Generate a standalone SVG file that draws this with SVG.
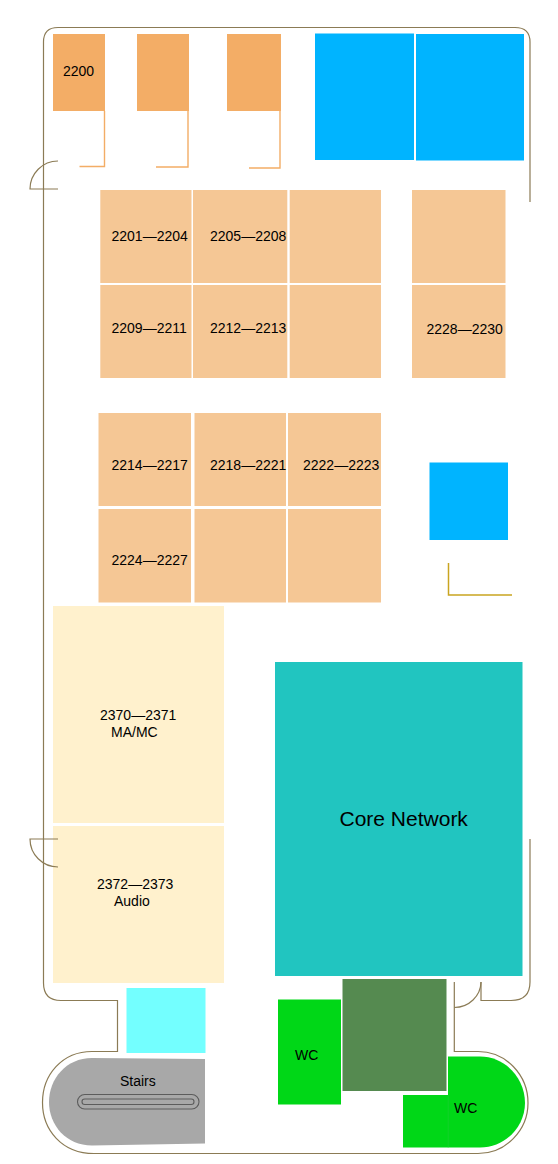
<svg xmlns="http://www.w3.org/2000/svg" width="558" height="1164" viewBox="0 0 558 1164">
<style>
text{font-family:"Liberation Sans",Arial,sans-serif;font-size:14px;fill:#000;text-anchor:start}
.o{fill:#f3ad66}.p{fill:#f5c795}.b{fill:#00b4ff}.c{fill:#fff1cd}.g{fill:#00d717}
.w{fill:none;stroke:#8b7b55;stroke-width:1.200}
.l{fill:none;stroke:#f3ad66;stroke-width:1.400}
.r{fill:none;stroke:#5c5c5c;stroke-width:1.100}
</style>
<rect width="558" height="1164" fill="#fff"/>
<g id="r2200"><rect class="o" x="53" y="34" width="52" height="77"/><path class="l" d="M104.500 111V166.500H79.500"/><text x="63" y="76">2200</text></g>
<g id="r2200b"><rect class="o" x="137" y="34" width="52" height="77"/><path class="l" d="M188 111V167H156"/></g>
<g id="r2200c"><rect class="o" x="227" y="34" width="54" height="77"/><path class="l" d="M280 111V168H249"/></g>
<g id="blue1"><rect class="b" x="315" y="33.500" width="99" height="126.500"/></g>
<g id="blue2"><rect class="b" x="416" y="34" width="108" height="126.500"/></g>
<g id="r2201"><rect class="p" x="100.300" y="190" width="91.200" height="93"/><text x="111.500" y="241">2201—2204</text></g>
<g id="r2205"><rect class="p" x="193" y="190" width="94.300" height="93"/><text x="210" y="241">2205—2208</text></g>
<g id="r2205b"><rect class="p" x="289.700" y="190" width="91.300" height="93"/></g>
<g id="r2209"><rect class="p" x="100.300" y="285" width="91.200" height="93"/><text x="111.500" y="333">2209—2211</text></g>
<g id="r2212"><rect class="p" x="193" y="285" width="94.300" height="93"/><text x="210" y="333">2212—2213</text></g>
<g id="r2212b"><rect class="p" x="289.700" y="285" width="91.300" height="93"/></g>
<g id="r2228a"><rect class="p" x="412" y="190" width="93.500" height="93"/></g>
<g id="r2228"><rect class="p" x="412" y="285" width="93.500" height="93"/><text x="426.500" y="334">2228—2230</text></g>
<g id="r2214"><rect class="p" x="98.500" y="413" width="92.500" height="93"/><text x="111.500" y="470">2214—2217</text></g>
<g id="r2218"><rect class="p" x="194.500" y="413" width="91.500" height="93"/><text x="210" y="470">2218—2221</text></g>
<g id="r2222"><rect class="p" x="288" y="413" width="93" height="93"/><text x="303" y="470">2222—2223</text></g>
<g id="r2224"><rect class="p" x="98.500" y="509" width="92.500" height="93.500"/><text x="111.500" y="565">2224—2227</text></g>
<g id="r2224b"><rect class="p" x="194.500" y="509" width="91.500" height="93.500"/></g>
<g id="r2224c"><rect class="p" x="288" y="509" width="93" height="93.500"/></g>
<g id="blue3"><rect class="b" x="429.500" y="462.500" width="78.500" height="77.500"/></g>
<g id="gold"><path fill="none" stroke="#c9a520" stroke-width="1.500" d="M448.500 563V595H512"/></g>
<g id="r2370"><rect class="c" x="53" y="606" width="171" height="217"/><text x="100" y="720">2370—2371</text><text x="111" y="737">MA/MC</text></g>
<g id="r2372"><rect class="c" x="53" y="826" width="171" height="157"/><text x="97" y="889">2372—2373</text><text x="114" y="906">Audio</text></g>
<g id="core"><rect fill="#21c5c0" x="275" y="662" width="247.500" height="314"/><text x="339.500" y="826" style="font-size:21px">Core Network</text></g>
<g id="cyan"><rect fill="#73ffff" x="126.500" y="988" width="79" height="65"/></g>
<g id="stairs"><path fill="#a8a8a8" d="M205 1059V1143.500L92 1145.500C66 1145.500 49 1125 49 1102C49 1079 66 1058 92 1058Z"/><rect class="r" x="77.500" y="1094.500" width="121.500" height="14.500" rx="7.250"/><rect class="r" x="82" y="1099" width="112" height="5.500" rx="2.750"/><text x="120" y="1086">Stairs</text></g>
<g id="dark"><rect fill="#558a50" x="342.500" y="979" width="104" height="112"/></g>
<g id="wc1"><rect class="g" x="278" y="999.500" width="63" height="105"/><text x="295" y="1060">WC</text></g>
<g id="wc2"><rect class="g" x="403" y="1095" width="45" height="52.500"/><path class="g" d="M448 1056.500H480C505 1056.500 525 1078 525 1103C525 1127 505 1147.500 480 1147.500H448Z"/><path d="M448.200 1095V1147.500" fill="none" stroke="#1fcf35" stroke-width="0.600"/><text x="454" y="1113">WC</text></g>
<g id="walls">
<path class="w" d="M530 202V42Q530 27.500 515 27.500H58Q43.500 27.500 43.500 42V983Q43.500 1000.500 61 1000.500H117.500V1051.500H92C62 1051.500 42.500 1075 42.500 1102.500C42.500 1130 62 1153.500 94 1153.500H478C506 1153.500 528 1130 528 1103C528 1075 506 1051.500 478 1051.500H454.300V982"/>
<path class="w" d="M530 839V982Q530 1000.500 511 1000.500H481V982"/>
<path class="w" d="M58 189H30A28 28 0 0 1 58 161"/>
<path class="w" d="M58 839H30A28 28 0 0 0 58 867"/>
<path class="w" d="M454.300 1007.500A27 26 0 0 0 481 982"/>
</g>
</svg>
